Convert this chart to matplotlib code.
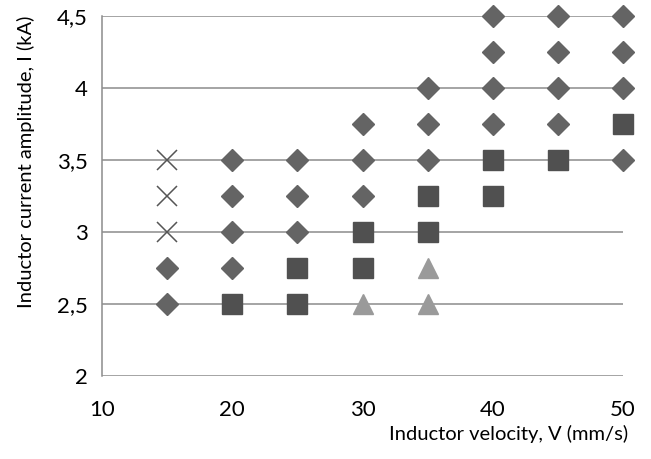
import matplotlib
matplotlib.use("Agg")
import matplotlib.pyplot as plt
from matplotlib.ticker import FuncFormatter

plt.rcParams['font.family'] = ['Lato', 'DejaVu Sans']

# stable points (diamonds)
diamond_v = [15, 15, 20, 20, 20, 20, 25, 25, 25, 30, 30, 30, 35, 35, 35,
             40, 40, 40, 40, 45, 45, 45, 45, 50, 50, 50, 50]
diamond_i = [2.5, 2.75, 2.75, 3, 3.25, 3.5, 3, 3.25, 3.5, 3.25, 3.5, 3.75, 3.5, 3.75, 4,
             3.75, 4, 4.25, 4.5, 3.75, 4, 4.25, 4.5, 3.5, 4, 4.25, 4.5]
# squares
square_v = [20, 25, 25, 30, 30, 35, 35, 40, 40, 45, 50]
square_i = [2.5, 2.5, 2.75, 2.75, 3, 3, 3.25, 3.25, 3.5, 3.5, 3.75]
# triangles
tri_v = [30, 35, 35]
tri_i = [2.5, 2.5, 2.75]
# crosses
cross_v = [15, 15, 15]
cross_i = [3, 3.25, 3.5]

x_ticks = [10, 20, 30, 40, 50]
y_ticks = [2, 2.5, 3, 3.5, 4, 4.5]

fig = plt.figure(figsize=(6.51, 4.59), dpi=100)
ax = fig.add_axes([0.1567, 0.1808, 0.8003, 0.7843])

for y in y_ticks:
    ax.axhline(y, color='#8c8c8c', lw=1.1, zorder=1)

ax.plot(diamond_v, diamond_i, 'D', ms=10.7, color='#646464', mec='#646464', clip_on=False, zorder=3)
ax.plot(square_v, square_i, 's', ms=15, color='#505050', mec='#505050', clip_on=False, zorder=3)
ax.plot(tri_v, tri_i, '^', ms=15, color='#9a9a9a', mec='#9a9a9a', clip_on=False, zorder=3)
ax.plot(cross_v, cross_i, 'x', ms=14, mew=1.1, color='#555555', clip_on=False, zorder=3)

ax.set_xlim(10, 50)
ax.set_ylim(2, 4.5)
ax.set_xticks(x_ticks)
ax.set_yticks(y_ticks)
comma = FuncFormatter(lambda v, p: ('%g' % v).replace('.', ','))
ax.yaxis.set_major_formatter(comma)
ax.tick_params(length=0, labelsize=16, colors='black')
ax.tick_params(axis='x', pad=17)
ax.tick_params(axis='y', pad=10)

for s in ['top', 'right', 'bottom']:
    ax.spines[s].set_visible(False)
ax.spines['left'].set_color('#8c8c8c')
ax.spines['left'].set_linewidth(1.1)

fig.text(0.965, 0.035, 'Inductor velocity, V (mm/s)', ha='right', va='bottom', fontsize=14.5)
fig.text(0.026, 0.967, 'Inductor current amplitude, I (kA)', rotation=90,
         ha='left', va='top', fontsize=14.5)

fig.savefig('out.png', dpi=100)
